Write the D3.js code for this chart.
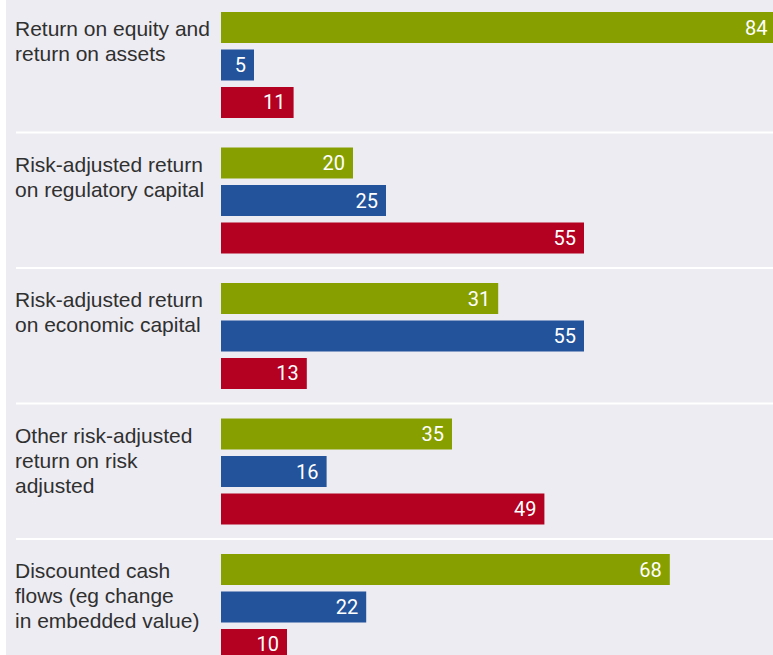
<!DOCTYPE html>
<html><head><meta charset="utf-8">
<script src="https://cdn.jsdelivr.net/npm/d3@7/dist/d3.min.js"></script>
<style>html,body{margin:0;padding:0;background:#fff;}svg{display:block;}</style>
</head><body>
<svg id="chart" width="773" height="655"></svg>
<script>
const categories = [
  ["Return on equity and", "return on assets"],
  ["Risk-adjusted return", "on regulatory capital"],
  ["Risk-adjusted return", "on economic capital"],
  ["Other risk-adjusted", "return on risk", "adjusted"],
  ["Discounted cash", "flows (eg change", "in embedded value)"]
];
const seriesNames = ["green", "blue", "red"];
// bar lengths as drawn in the picture
const seriesGreen = [84, 20, 42, 35, 68];
const seriesBlue  = [5, 25, 55, 16, 22];
const seriesRed   = [11, 55, 13, 49, 10];
// value labels as printed in the picture
const labelsGreen = ["84", "20", "31", "35", "68"];
const labelsBlue  = ["5", "25", "55", "16", "22"];
const labelsRed   = ["11", "55", "13", "49", "10"];

const colors = {green: "#87A000", blue: "#23539B", red: "#B40021"};
const seriesValues = {green: seriesGreen, blue: seriesBlue, red: seriesRed};
const seriesLabels = {green: labelsGreen, blue: labelsBlue, red: labelsRed};

const W = 773, H = 655;
const svg = d3.select("#chart");
svg.append("rect").attr("x", 6).attr("y", 0).attr("width", W - 6).attr("height", H).attr("fill", "#EDECF2");

const groupStep = 135.5;
const y0 = d3.scaleBand().domain(d3.range(categories.length))
  .range([12, 12 + groupStep * categories.length]).paddingInner(0).paddingOuter(0);
const y1 = d3.scaleBand().domain(seriesNames).range([0, 106])
  .paddingInner(0.1733).paddingOuter(0).align(0);
const x = d3.scaleLinear().domain([0, 100]).range([221, 881]);

svg.selectAll("line.sep").data(d3.range(1, categories.length)).join("line")
  .attr("x1", 16).attr("x2", W)
  .attr("y1", i => y0(i) - 15).attr("y2", i => y0(i) - 15)
  .attr("stroke", "#fff").attr("stroke-width", 2);

const g = svg.selectAll("g.grp").data(categories).join("g")
  .attr("transform", (d, i) => `translate(0,${y0(i)})`);

g.each(function(lines, i) {
  const gg = d3.select(this);
  const t = gg.append("text").attr("x", 15).attr("y", 24)
    .attr("font-family", "Liberation Sans, Arial, sans-serif").attr("font-size", 21)
    .attr("fill", "#303030");
  lines.forEach((l, k) => t.append("tspan").attr("x", 15).attr("dy", k === 0 ? 0 : 25).text(l));
  seriesNames.forEach(s => {
    const v = seriesValues[s][i];
    gg.append("rect").attr("x", x(0)).attr("y", y1(s))
      .attr("width", x(v) - x(0)).attr("height", y1.bandwidth()).attr("fill", colors[s]);
    gg.append("text").attr("x", x(v) - 8).attr("y", y1(s) + y1.bandwidth() / 2 + 7)
      .attr("text-anchor", "end").attr("fill", "#fff")
      .attr("font-family", "Roboto, Liberation Sans, sans-serif").attr("font-size", 20)
      .text(seriesLabels[s][i]);
  });
});
</script>
</body></html>
